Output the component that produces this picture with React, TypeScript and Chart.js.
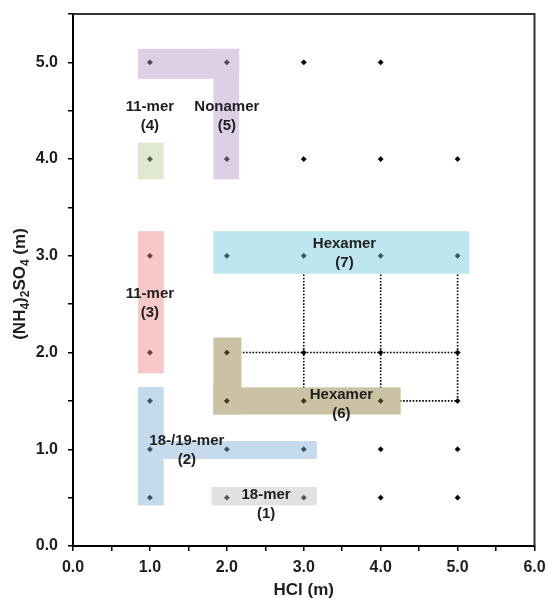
import React, { useEffect, useRef } from 'react';
import { Chart, registerables } from 'chart.js';

Chart.register(...registerables);

// ---- data ----
const rowY = [5.0, 4.0, 3.0, 2.0, 1.5, 1.0, 0.5];
const rowX = [
  [1, 2, 3, 4],
  [1, 2, 3, 4, 5],
  [1, 2, 3, 4, 5],
  [1, 2, 3, 4, 5],
  [1, 2, 3, 4, 5],
  [1, 2, 3, 4, 5],
  [1, 2, 3, 4, 5],
];

const dottedLines = [
  [[2, 2], [5, 2]],
  [[4, 1.5], [5, 1.5]],
  [[3, 1.5], [3, 3]],
  [[4, 1.5], [4, 3]],
  [[5, 1.5], [5, 3]],
];

const regionColors = ['#e2e2e2', '#c6daee', '#f6c8c8', '#dfe9cf', '#dccfe6', '#cac2a2', '#bde6ee'];
const regionRects = [
  [[1.8, 3.17, 0.42, 0.61]],
  [[0.845, 1.18, 0.42, 1.645], [0.845, 3.17, 0.9, 1.085]],
  [[0.845, 1.18, 1.785, 3.255]],
  [[0.845, 1.18, 3.79, 4.17]],
  [[0.845, 2.16, 4.83, 5.14], [1.825, 2.16, 3.79, 5.14]],
  [[1.825, 2.19, 1.36, 2.155], [1.825, 4.26, 1.36, 1.64]],
  [[1.825, 5.15, 2.815, 3.255]],
];
const labelLines = [
  ['18-mer', '(1)'],
  ['18-/19-mer', '(2)'],
  ['11-mer', '(3)'],
  ['11-mer', '(4)'],
  ['Nonamer', '(5)'],
  ['Hexamer', '(6)'],
  ['Hexamer', '(7)'],
];
const labelX = [2.51, 1.48, 1.0, 1.0, 2.0, 3.49, 3.53];
const labelY = [0.43, 0.99, 2.51, 4.44, 4.44, 1.46, 3.025];

const xTitle = 'HCl (m)';
// y title pieces: [text, isSubscript]
const yTitleParts: [string, boolean][] = [
  ['(NH', false],
  ['4', true],
  [')', false],
  ['2', true],
  ['SO', false],
  ['4', true],
  [' (m)', false],
];

const FONT = "'Liberation Sans', Arial, Helvetica, sans-serif";

function hexToRgb(h: string) {
  const n = parseInt(h.slice(1), 16);
  return [(n >> 16) & 255, (n >> 8) & 255, n & 255];
}

function pointColor(x: number, y: number) {
  for (let i = 0; i < regionRects.length; i++) {
    for (const r of regionRects[i]) {
      if (x >= r[0] && x <= r[1] && y >= r[2] && y <= r[3]) {
        const [R, G, B] = hexToRgb(regionColors[i]);
        const d = (v: number) => Math.max(0, v - 140);
        return `rgb(${d(R)},${d(G)},${d(B)})`;
      }
    }
  }
  return '#000';
}

export default function App() {
  const ref = useRef<HTMLCanvasElement | null>(null);

  useEffect(() => {
    document.body.style.margin = '0';
    const canvas = ref.current;
    if (!canvas) return;

    const points: { x: number; y: number }[] = [];
    rowY.forEach((y, i) => rowX[i].forEach((x) => points.push({ x, y })));
    const pColors = points.map((p) => pointColor(p.x, p.y));

    const datasets: any[] = [
      {
        type: 'scatter',
        data: points,
        pointStyle: 'rectRot',
        pointRadius: 2.6,
        pointBorderWidth: 0.6,
        pointBackgroundColor: pColors,
        pointBorderColor: pColors,
        showLine: false,
      },
      ...dottedLines.map((seg) => ({
        type: 'line',
        data: seg.map(([x, y]) => ({ x, y })),
        borderColor: '#000',
        borderWidth: 1.6,
        borderDash: [1.6, 1.6],
        pointRadius: 0,
        fill: false,
      })),
    ];

    const overlay = {
      id: 'overlay',
      beforeDatasetDraw(chart: any, args: any) {
        if (args.index !== 0) return;
        const { ctx, scales } = chart;
        const xs = scales.x;
        const ys = scales.y;
        ctx.save();
        regionRects.forEach((rects, i) => {
          ctx.fillStyle = regionColors[i];
          rects.forEach(([x0, x1, y0, y1]) => {
            const px0 = xs.getPixelForValue(x0);
            const px1 = xs.getPixelForValue(x1);
            const py0 = ys.getPixelForValue(y1);
            const py1 = ys.getPixelForValue(y0);
            ctx.fillRect(px0, py0, px1 - px0, py1 - py0);
          });
        });
        ctx.restore();
      },
      afterDatasetsDraw(chart: any) {
        const { ctx, scales, chartArea } = chart;
        const xs = scales.x;
        const ys = scales.y;
        ctx.save();
        ctx.font = `bold 15px ${FONT}`;
        ctx.fillStyle = '#1e1e1e';
        ctx.textAlign = 'center';
        ctx.textBaseline = 'middle';
        labelLines.forEach((lines, i) => {
          const cx = xs.getPixelForValue(labelX[i]);
          const cy = ys.getPixelForValue(labelY[i]);
          const lh = 19;
          lines.forEach((t, j) => {
            ctx.fillText(t, cx, cy + (j - (lines.length - 1) / 2) * lh);
          });
        });
        // top & right frame
        ctx.strokeStyle = '#333';
        ctx.lineWidth = 2;
        ctx.beginPath();
        ctx.moveTo(chartArea.left, chartArea.top);
        ctx.lineTo(chartArea.right, chartArea.top);
        ctx.lineTo(chartArea.right, chartArea.bottom);
        ctx.stroke();

        // y-axis title with real subscripts
        const mainSize = 17;
        const subSize = 12;
        const mainFont = `bold ${mainSize}px ${FONT}`;
        const subFont = `bold ${subSize}px ${FONT}`;
        let total = 0;
        yTitleParts.forEach(([t, sub]) => {
          ctx.font = sub ? subFont : mainFont;
          total += ctx.measureText(t).width;
        });
        const cxT = 19;
        const cyT = (chartArea.top + chartArea.bottom) / 2 + 4;
        ctx.translate(cxT, cyT);
        ctx.rotate(-Math.PI / 2);
        ctx.textAlign = 'left';
        ctx.textBaseline = 'alphabetic';
        let pos = -total / 2;
        const base = 6;
        yTitleParts.forEach(([t, sub]) => {
          ctx.font = sub ? subFont : mainFont;
          ctx.fillText(t, pos, sub ? base + 4 : base);
          pos += ctx.measureText(t).width;
        });
        ctx.restore();
      },
    };

    const tickFont = { family: FONT, size: 16, weight: 'bold' as const };
    const titleFont = { family: FONT, size: 17, weight: 'bold' as const };
    const fmt = (v: any) => (Math.abs(v - Math.round(v)) < 1e-9 ? Number(v).toFixed(1) : '');

    const chart = new Chart(canvas, {
      type: 'scatter',
      data: { datasets },
      plugins: [overlay],
      options: {
        animation: false,
        responsive: false,
        events: [],
        layout: { padding: { top: 14, right: 13.5, left: 0, bottom: 0 } },
        plugins: { legend: { display: false }, tooltip: { enabled: false } },
        scales: {
          x: {
            type: 'linear',
            min: 0,
            max: 6,
            afterFit: (s: any) => {
              s.height = 53;
              s.paddingLeft = 0;
              s.paddingRight = 0;
            },
            ticks: {
              stepSize: 0.5,
              autoSkip: false,
              maxRotation: 0,
              callback: fmt,
              font: tickFont,
              color: '#1e1e1e',
              padding: 7,
            },
            grid: {
              display: true,
              drawOnChartArea: false,
              drawTicks: true,
              tickLength: 5,
              color: '#000',
              lineWidth: 1.5,
            },
            border: { display: true, color: '#000', width: 2 },
            title: {
              display: true,
              text: xTitle,
              font: titleFont,
              color: '#1e1e1e',
              padding: { top: 0, bottom: -2 },
            },
          },
          y: {
            type: 'linear',
            min: 0,
            max: 5.5,
            afterFit: (s: any) => {
              s.width = 73;
              s.paddingTop = 0;
              s.paddingBottom = 0;
            },
            ticks: {
              stepSize: 0.5,
              autoSkip: false,
              callback: fmt,
              font: tickFont,
              color: '#1e1e1e',
              padding: 10,
            },
            grid: {
              display: true,
              drawOnChartArea: false,
              drawTicks: true,
              tickLength: 5,
              color: '#000',
              lineWidth: 1.5,
            },
            border: { display: true, color: '#000', width: 2 },
            title: { display: false },
          },
        },
      },
    } as any);

    return () => chart.destroy();
  }, []);

  return (
    <div style={{ width: 548, height: 599, overflow: 'hidden', background: '#fff' }}>
      <canvas
        ref={ref}
        width={548}
        height={599}
        style={{ display: 'block' }}
        aria-label="(NH4)2SO4 (m) versus HCl (m)"
      />
    </div>
  );
}
